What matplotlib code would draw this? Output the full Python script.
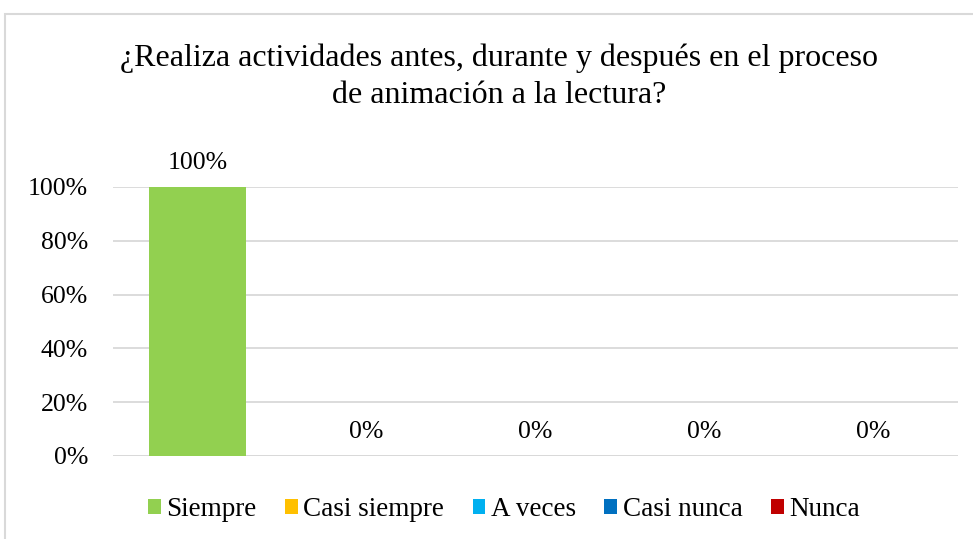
"""Bar chart: ¿Realiza actividades antes, durante y después ...? (Excel-style, one bar per answer)."""

import matplotlib

matplotlib.use("Agg")
import matplotlib.pyplot as plt  # noqa: E402
from matplotlib.patches import Patch, Rectangle  # noqa: E402
from matplotlib.ticker import FuncFormatter  # noqa: E402

CATEGORIES = ["Siempre", "Casi siempre", "A veces", "Casi nunca", "Nunca"]
VALUES = [100, 0, 0, 0, 0]  # percent
COLORS = ["#92d050", "#ffc000", "#00b0f0", "#0070c0", "#c00000"]
YTICKS = [0, 20, 40, 60, 80, 100]
TITLE = "¿Realiza actividades antes, durante y después en el proceso\nde animación a la lectura?"

W, H = 973, 539
plt.rcParams["font.family"] = ["Liberation Serif", "DejaVu Serif"]

fig = plt.figure(figsize=(W / 100, H / 100), dpi=100)
ax = fig.add_axes([113 / W, 1 - 456 / H, (958 - 113) / W, (456 - 187) / H])

# chart-area border (only top and left edges fall inside the picture)
fig.patches.append(Rectangle((5 / W, -0.1), 1.2, 1 - 14 / H + 0.1, transform=fig.transFigure,
                             facecolor="none", edgecolor="#d9d9d9", linewidth=1.5))

pos = list(range(len(CATEGORIES)))
ax.bar(pos, VALUES, width=0.575, color=COLORS, zorder=3)
for x, v in zip(pos, VALUES):
    ax.annotate(f"{v}%", xy=(x, v), xytext=(0, 17), textcoords="offset points",
                ha="center", va="center", fontsize=18.5)

ax.set_xlim(-0.5, len(CATEGORIES) - 0.5)
ax.set_ylim(0, 100)
ax.set_yticks(YTICKS)
ax.yaxis.set_major_formatter(FuncFormatter(lambda v, _p: f"{v:.0f}%"))
ax.tick_params(axis="y", length=0, labelsize=18.5, pad=18)
ax.set_xticks([])
ax.grid(True, axis="y", color="#d9d9d9", linewidth=1.3, zorder=0)
ax.set_axisbelow(True)
for s in ax.spines.values():
    s.set_visible(False)
ax.axhline(0, color="#d9d9d9", linewidth=1.3, zorder=1)

fig.text(499 / W, 1 - 77 / H, TITLE, ha="center", va="center", fontsize=23, linespacing=1.35)

handles = [Patch(facecolor=c, edgecolor="none") for c in COLORS]
fig.legend(handles, CATEGORIES, loc="center", bbox_to_anchor=(504 / W, 1 - 510 / H), ncol=5,
           frameon=False, fontsize=19.5, handlelength=0.47, handleheight=0.47,
           handletextpad=0.2, columnspacing=1.05)

fig.savefig("out.png", dpi=100)
